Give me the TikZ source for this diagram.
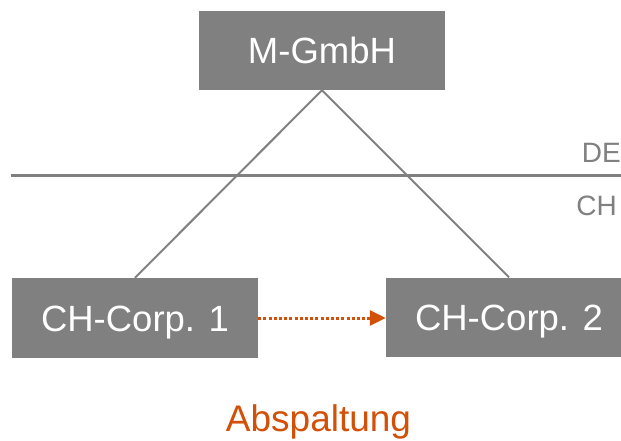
\documentclass[tikz,border=0pt]{standalone}
\usepackage{fontspec}
\setmainfont{Liberation Sans}
\usetikzlibrary{arrows.meta}
\definecolor{boxgray}{RGB}{128,128,128}
\definecolor{linegray}{RGB}{128,128,128}
\definecolor{accent}{RGB}{210,80,8}
\begin{document}
\begin{tikzpicture}[x=1pt,y=-1pt,
  company/.style={fill=boxgray, text=white, inner sep=0pt,
    minimum width=246pt, minimum height=79pt,
    text height=26pt, text depth=0pt,
    font=\fontsize{36.5}{36.5}\selectfont},
  link/.style={draw=linegray, line width=2pt},
  border/.style={draw=linegray, line width=2.2pt},
  region/.style={text=linegray, inner sep=0pt, font=\fontsize{28}{28}\selectfont},
  transfer/.style={draw=accent, line width=3pt, dash pattern=on 3pt off 2.2pt,
    -{Triangle[length=16pt,width=15pt,fill=accent]}}]
\useasboundingbox (0,0) rectangle (621,441);
\clip (0,0) rectangle (621,441);

% companies
\node[company] (m)  at (322,50.5) {M-GmbH};
\node[company, minimum height=80pt] (c1) at (135,318) {CH-Corp. 1};
\node[company] (c2) at (509,317) {CH-Corp. 2};

% national border
\coordinate (bl) at (11,175.5);
\coordinate (br) at (621,175.5);
\draw[border] (bl) -- (br);
\node[region, anchor=base east] (de) at (621,162) {DE};
\node[region, anchor=base east] (ch) at (617,215) {CH};

% shareholdings
\draw[link] (m.south) -- (c1.north);
\draw[link] (m.south) -- (c2.north);

% spin-off
\draw[transfer] (c1.east) -- (c1.east -| c2.west);
\node[anchor=base, text=accent, inner sep=0pt, font=\fontsize{37}{37}\selectfont]
  (ab) at (318.5,431.5) {Abspaltung};
\end{tikzpicture}
\end{document}
